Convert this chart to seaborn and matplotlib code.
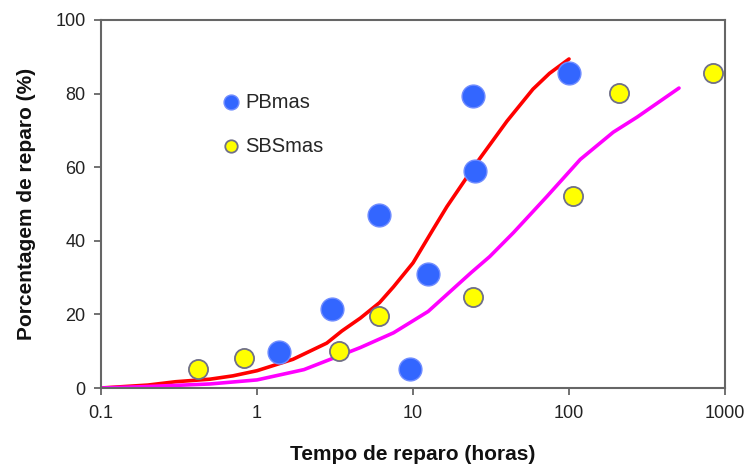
import matplotlib
matplotlib.use("Agg")
import matplotlib.pyplot as plt
import seaborn as sns
import pandas as pd
from matplotlib.ticker import FixedLocator, NullLocator

# --- data ---
pb_x = [1.38, 3.03, 6.05, 9.5, 12.5, 24.3, 24.8, 100]
pb_y = [9.8, 21.4, 46.9, 5.2, 31.0, 79.3, 58.9, 85.5]

sbs_x = [0.42, 0.83, 3.36, 6.05, 24.3, 106, 209, 838]
sbs_y = [5.2, 8.2, 10.1, 19.6, 24.8, 52.3, 80.1, 85.6]

red_x = [0.1, 0.2, 0.3, 0.5, 0.7, 1.0, 1.7, 2.8, 3.5, 4.6, 6.1, 7.5, 10, 13.4, 16.5, 25.7, 40, 58.7, 75, 100]
red_y = [0.0, 0.8, 1.7, 2.4, 3.3, 4.7, 7.8, 12.2, 15.5, 19.0, 23.2, 27.5, 34, 43, 49.3, 61.3, 72.5, 81.2, 85.5, 89.4]

mag_x = [0.1, 0.2, 0.5, 1.0, 2.0, 3.3, 4.6, 7.5, 12.5, 23.5, 31, 44, 72, 118, 192, 273, 507]
mag_y = [0.0, 0.4, 1.1, 2.2, 5.0, 8.6, 11.0, 15.0, 20.8, 31.3, 35.7, 42.2, 52.0, 62.1, 69.5, 73.6, 81.5]

x_ticks = [0.1, 1, 10, 100, 1000]
x_tick_labels = ["0.1", "1", "10", "100", "1000"]
y_ticks = [0, 20, 40, 60, 80, 100]

sns.set_theme(style="white")
plt.rcParams["font.family"] = ["Liberation Sans", "DejaVu Sans"]

fig = plt.figure(figsize=(7.5, 4.69), dpi=100)
ax = fig.add_axes([0.1347, 0.1727, 0.832, 0.7847])

df_red = pd.DataFrame({"x": red_x, "y": red_y})
df_mag = pd.DataFrame({"x": mag_x, "y": mag_y})
df_pb = pd.DataFrame({"x": pb_x, "y": pb_y})
df_sbs = pd.DataFrame({"x": sbs_x, "y": sbs_y})

sns.lineplot(data=df_red, x="x", y="y", ax=ax, color="#ff0000", linewidth=2.6,
             sort=False, estimator=None, zorder=2)
sns.lineplot(data=df_mag, x="x", y="y", ax=ax, color="#ff00ff", linewidth=2.6,
             sort=False, estimator=None, zorder=2)
sns.scatterplot(data=df_pb, x="x", y="y", ax=ax, color="#3366ff", s=270,
                edgecolor="#6f8cff", linewidth=1.0, zorder=3, label="PBmas")
sns.scatterplot(data=df_sbs, x="x", y="y", ax=ax, color="#ffff00", s=190,
                edgecolor="#707088", linewidth=1.3, zorder=3, label="SBSmas")

ax.set_xscale("log")
ax.set_xlim(0.1, 1000)
ax.set_ylim(0, 100)
ax.xaxis.set_major_locator(FixedLocator(x_ticks))
ax.xaxis.set_minor_locator(NullLocator())
ax.set_xticklabels(x_tick_labels)
ax.set_yticks(y_ticks)

for sp in ax.spines.values():
    sp.set_color("#666666")
    sp.set_linewidth(1.5)
ax.tick_params(axis="both", which="major", direction="out", length=5, width=1.3,
               color="#666666", labelsize=13, labelcolor="#222222", pad=6,
               bottom=True, left=True)
ax.tick_params(axis="x", pad=7)

ax.set_xlabel("Tempo de reparo (horas)", fontsize=15, fontweight="bold",
              color="#111111", labelpad=17)
ax.set_ylabel("Porcentagem de reparo (%)", fontsize=15, fontweight="bold",
              color="#111111", labelpad=14)

handles, labels = ax.get_legend_handles_labels()
handles = [h for h, l in zip(handles, labels) if l in ("PBmas", "SBSmas")]
leg = ax.legend(handles=handles, labels=["PBmas", "SBSmas"], loc="upper left",
                bbox_to_anchor=(0.163, 0.852), frameon=False, fontsize=14.5,
                markerscale=0.65, labelspacing=1.25, handletextpad=0.2,
                handlelength=1.0)

fig.savefig("out.png", dpi=100)
